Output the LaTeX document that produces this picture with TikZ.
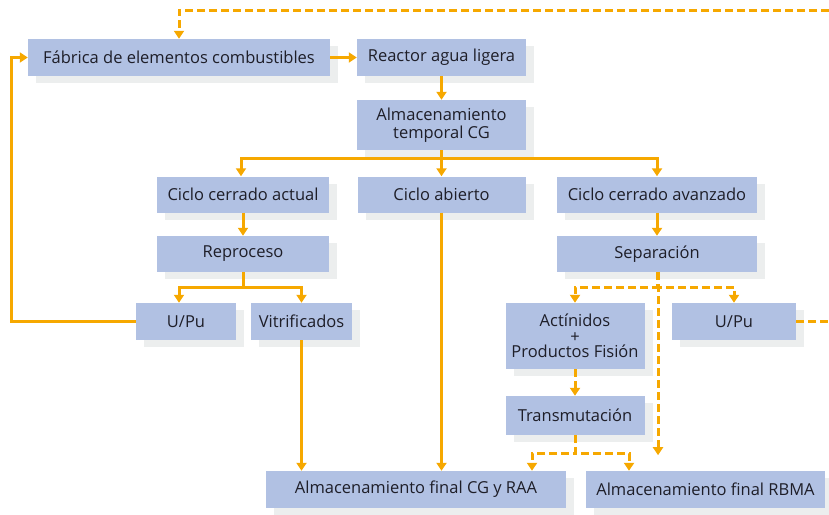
\documentclass[tikz,border=0pt]{standalone}
\usepackage{fontspec}
\setmainfont{Open Sans}
\usetikzlibrary{arrows.meta,shadows}
\definecolor{naranja}{HTML}{F6A800}
\definecolor{azulcaja}{HTML}{B1C1E3}
\definecolor{sombra}{HTML}{ECEEEE}
\definecolor{texto}{HTML}{1E1E28}
\begin{document}
\begin{tikzpicture}[x=1pt,y=-1pt,
    caja/.style={fill=azulcaja, text=texto, inner sep=0pt, align=center,
        font=\fontsize{16.5}{17.5}\selectfont,
        drop shadow={shadow xshift=8pt, shadow yshift=-7pt, fill=sombra, opacity=1}},
    flecha/.style={draw=naranja, line width=3pt, -{Triangle[width=10pt,length=8pt]}},
    flechad/.style={flecha, dash pattern=on 8pt off 4pt},
    linead/.style={draw=naranja, line width=3pt, dash pattern=on 8pt off 4pt}]
    \useasboundingbox (0,0) rectangle (829,514);
    \node [caja, minimum width=302pt, minimum height=37pt] (fab) at (179,57.5) {Fábrica de elementos combustibles};
    \node [caja, minimum width=169pt, minimum height=37pt] (reac) at (441.5,57.5) {Reactor agua ligera};
    \node [caja, minimum width=169pt, minimum height=50pt] (temp) at (441.5,125) {Almacenamiento\\temporal CG};
    \node [caja, minimum width=172pt, minimum height=36pt] (cca) at (243,194.5) {Ciclo cerrado actual};
    \node [caja, minimum width=168pt, minimum height=36pt] (cab) at (441.5,194.5) {Ciclo abierto};
    \node [caja, minimum width=200pt, minimum height=36pt] (ccav) at (657,194.5) {Ciclo cerrado avanzado};
    \node [caja, minimum width=172pt, minimum height=36pt] (repro) at (243,254) {Reproceso};
    \node [caja, minimum width=200pt, minimum height=36pt] (sep) at (657,254) {Separación};
    \node [caja, minimum width=100pt, minimum height=37pt] (upua) at (186,321.5) {U/Pu};
    \node [caja, minimum width=101pt, minimum height=37pt] (vitr) at (301.5,321.5) {Vitrificados};
    \node [caja, minimum width=139pt, minimum height=66pt, font=\fontsize{16.5}{15.5}\selectfont] (act) at (575,336) {Actínidos\\+\\Productos Fisión};
    \node [caja, minimum width=124pt, minimum height=37pt] (upub) at (734,321.5) {U/Pu};
    \node [caja, minimum width=139pt, minimum height=39pt] (trans) at (575,415.5) {Transmutación};
    \node [caja, minimum width=300pt, minimum height=37pt] (cgfin) at (416,489.5) {Almacenamiento final CG y RAA};
    \node [caja, minimum width=239pt, minimum height=37pt] (rbma) at (705.5,489.5) {Almacenamiento final RBMA};
    \coordinate (arriba) at (829,10);
    \coordinate (salida) at (829,321.5);
    \draw [flecha] (fab) -- (reac);
    \draw [flecha] (reac) -- (temp);
    \draw [flecha] (temp.south) -- ++(0,8) -| ([xshift=-2pt]cca.north);
    \draw [flecha] (temp) -- (cab);
    \draw [flecha] (temp.south) -- ++(0,8) -| (ccav.north);
    \draw [flecha] (cca) -- (repro);
    \draw [flecha] (ccav) -- (sep);
    \draw [flecha] (repro.south) -- ++(0,15) -| ([xshift=-7pt]upua.north);
    \draw [flecha] (repro.south) -- ++(0,15) -| (vitr.north);
    \draw [flecha] (upua.west) -- ++(-124,0) |- (fab.west);
    \draw [flecha] (vitr.south) -- (vitr.south |- cgfin.north);
    \draw [flecha] (cab.south) -- (cab.south |- cgfin.north);
    \draw [flechad] (sep.south) -- ++(0,15) -| (act.north);
    \draw [flechad] (sep.south) -- ++(0,15) -| (upub.north);
    \draw [flechad] ([xshift=1pt]sep.south) -- ++(0,183);
    \draw [flechad] (act) -- (trans);
    \draw [flechad] (trans.south) -- ++(0,18) -| ([xshift=116pt]cgfin.north);
    \draw [flechad] (trans.south) -- ++(0,18) -| ([xshift=-76.5pt]rbma.north);
    \draw [linead] (upub) -- (salida);
    \draw [flechad] (arriba) -| (fab.north);
\end{tikzpicture}
\end{document}
